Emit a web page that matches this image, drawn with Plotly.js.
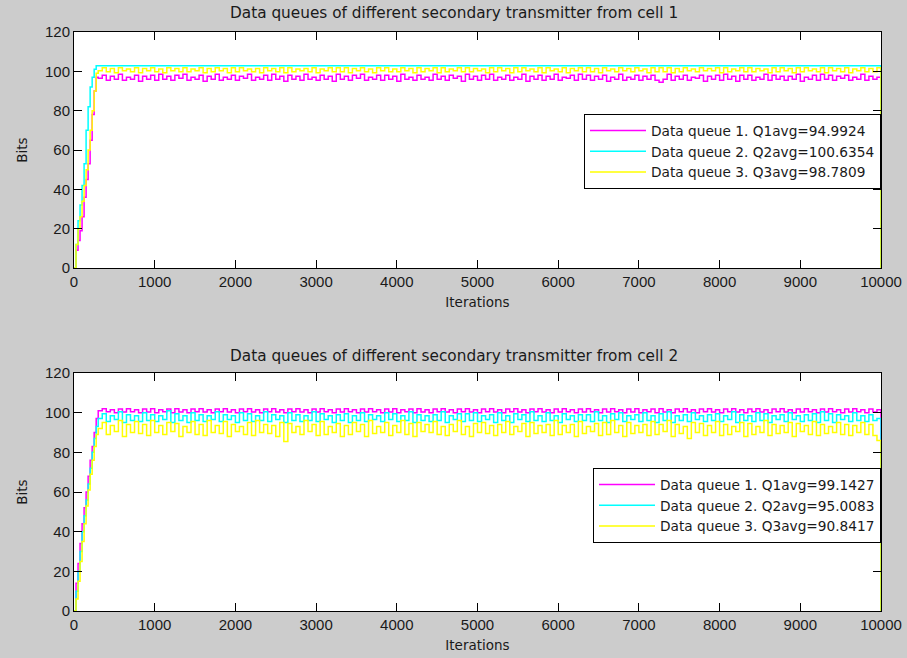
<!DOCTYPE html>
<html><head><meta charset="utf-8">
<script src="https://cdn.plot.ly/plotly-3.0.1.min.js"></script>
<style>html,body{margin:0;padding:0;background:#cccccc}#chart{width:907px;height:658px}</style>
</head><body><div id="chart"></div>
<script>
// ---- DATA ----
const rampIterations = [0,25,50,75,100,125,150,175,200,225,250,275,300];
const steadyFirst = 350, steadyStep = 50, steadyCount = 193, lastIteration = 10000;

const seriesNames1 = ["Data queue 1. Q1avg=94.9924","Data queue 2. Q2avg=100.6354","Data queue 3. Q3avg=98.7809"];
const seriesNames2 = ["Data queue 1. Q1avg=99.1427","Data queue 2. Q2avg=95.0083","Data queue 3. Q3avg=90.8417"];
const titles = ["Data queues of different secondary transmitter from cell 1","Data queues of different secondary transmitter from cell 2"];

// Cell 1
const cell1Q1Ramp = [0,9,14,19,26,36,45,53,65,78,90,97,96.5];
const cell1Q1 = [
98,95.5,97.5,96,98.5,95.5,97,96,98,95,
97.5,96,98,95.5,98.5,96,97.5,95.5,98,96.5,
98.5,95.5,97,96,98,95,97.5,96,98.5,95.5,
97,96,98,95.5,97.5,96.5,98.5,95.5,97,96,
98,95.5,98.5,96,97.5,95,98,96,97.5,95.5,
98.5,96,97,95.5,98,96,97.5,95,98.5,96,
97.5,95.5,98,96.5,98.5,95.5,97,96,98,95.5,
98,96,97.5,95,98.5,96,97,95.5,98,96,
97,95.5,98.5,96,97.5,95.5,98,96.5,97.5,95,
98.5,96,97.5,95.5,98,96,98.5,95.5,97,96,
98,95.5,97,96,98.5,95,97.5,96,98,95.5,
97.5,96,98.5,95.5,97,96.5,98,95.5,98.5,96,
98,95.5,97.5,96,98,95,97,96,98.5,95.5,
97,96,98,95.5,97.5,96,98,95.5,94.5,96,
98.5,95.5,97.5,96,98,95.5,97,96.5,98,95,
97.5,96,98,95.5,98.5,96,97.5,95,98,96,
98,95.5,97,96,98.5,95.5,98,96,97.5,95.5,
97.5,96,98.5,95,97,96,98,95.5,98.5,96,
98,95.5,97.5,96.5,98,95.5,97,96,98.5,95.5,
97.5,96,97];
const cell1Q2Ramp = [0,12,24,32,42,53,70,82,92,97,101,102.8,102.8];
const cell1Q2 = [
102.8,102.8,102.8,102.8,102.8,102.8,102.8,102.8,102.8,102.8,
102.8,102.8,102.8,102.8,102.8,102.8,102.8,102.8,102.8,102.8,
102.8,102.8,102.8,102.8,102.8,102.8,102.8,102.8,102.8,102.8,
102.8,102.8,102.8,102.8,102.8,102.8,102.8,102.8,102.8,102.8,
102.8,102.8,102.8,102.8,102.8,102.8,102.8,102.8,102.8,102.8,
102.8,102.8,102.8,102.8,102.8,102.8,102.8,102.8,102.8,102.8,
102.8,102.8,102.8,102.8,102.8,102.8,102.8,102.8,102.8,102.8,
102.8,102.8,102.8,102.8,102.8,102.8,102.8,102.8,102.8,102.8,
102.8,102.8,102.8,102.8,102.8,102.8,102.8,102.8,102.8,102.8,
102.8,102.8,102.8,102.8,102.8,102.8,102.8,102.8,102.8,102.8,
102.8,102.8,102.8,102.8,102.8,102.8,102.8,102.8,102.8,102.8,
102.8,102.8,102.8,102.8,102.8,102.8,102.8,102.8,102.8,102.8,
102.8,102.8,102.8,102.8,102.8,102.8,102.8,102.8,102.8,102.8,
102.8,102.8,102.8,102.8,102.8,102.8,102.8,102.8,102.8,102.8,
102.8,102.8,102.8,102.8,102.8,102.8,102.8,102.8,102.8,102.8,
102.8,102.8,102.8,102.8,102.8,102.8,102.8,102.8,102.8,102.8,
102.8,102.8,102.8,102.8,102.8,102.8,102.8,102.8,102.8,102.8,
102.8,102.8,102.8,102.8,102.8,102.8,102.8,102.8,102.8,102.8,
102.8,102.8,102.8,102.8,102.8,102.8,102.8,102.8,102.8,102.8,
102.8,102.8,102.8];
const cell1Q3Ramp = [0,12,20,26,34,42,50,60,70,80,90,99,100.3];
const cell1Q3 = [
101.8,99.8,101.5,99.3,101.8,100.3,101.2,99.8,101.8,99.3,
101.5,100.3,101.8,99.8,101.2,99.3,101.8,100.3,101.5,99.8,
101.8,99.8,101.2,100.3,101.8,99.3,101.5,99.8,101.8,100.3,
101.5,99.3,101.8,99.8,101.8,100.3,101.2,99.8,101.5,99.3,
101.8,100.3,101.5,99.8,101.8,99.3,101.8,99.8,101.2,100.3,
101.5,99.8,101.8,99.3,101.2,100.3,101.8,99.8,101.8,99.8,
101.8,99.3,101.5,100.3,101.8,99.8,101.2,99.3,101.8,100.3,
101.8,99.8,101.2,99.8,101.8,100.3,101.5,99.3,101.8,99.8,
101.5,100.3,101.8,99.3,101.8,99.8,101.2,100.3,101.8,99.8,
101.8,99.8,101.5,100.3,101.2,99.3,101.8,99.8,101.8,100.3,
101.5,99.3,101.8,99.8,101.8,100.3,101.2,99.8,101.8,99.3,
101.8,100.3,101.2,99.8,101.8,99.3,101.5,100.3,101.8,99.8,
101.8,99.8,101.5,99.3,101.8,100.3,101.2,99.8,101.8,100.3,
101.5,99.8,101.8,100.3,101.2,99.3,101.8,99.8,101.8,99.8,
101.8,99.3,101.5,99.8,101.8,100.3,101.2,99.8,101.8,100.3,
101.5,100.3,101.8,99.3,101.8,99.8,101.2,100.3,101.8,99.8,
101.8,99.8,101.5,100.3,101.2,99.3,101.8,99.8,101.8,100.3,
101.5,99.3,101.8,99.8,101.8,100.3,101.2,99.8,101.8,99.3,
101.8,100.3,101.5,99.8,101.8,99.3,101.2,100.3,101.8,99.8,
101.5,99.8,101.8];

// Cell 2
const cell2Q1Ramp = [0,14,24,34,44,52,60,68,76,83,90,97,101];
const cell2Q1 = [
102,100.5,101.5,100,101.8,100.3,102,100.5,101.5,100,
101.8,100.3,102,100,101.5,100.5,101.8,100,102,100.3,
101.5,100,101.8,100.5,102,100.3,101.5,100,101.8,100.5,
102,100.3,101.5,100,101.8,100.5,102,100.3,101.5,100,
101.8,100.5,102,100.3,101.5,100,101.8,100.5,102,100.3,
101.5,100,101.8,100.3,102,100.5,101.5,100,101.8,100.3,
102,100.5,101.5,100,101.8,100.3,102,100.5,101.5,100,
101.8,100.3,102,100,101.5,100.5,101.8,100,102,100.3,
101.5,100,101.8,100.5,102,100.3,101.5,100,101.8,100.5,
102,100.3,101.5,100,101.8,100.5,102,100.3,101.5,100,
101.8,100.5,102,100.3,101.5,100,101.8,100.5,102,100.3,
101.5,100,101.8,100.3,102,100.5,101.5,100,101.8,100.3,
102,100.5,101.5,100,101.8,100.3,102,100.5,101.5,100,
101.8,100.3,102,100,101.5,100.5,101.8,100,102,100.3,
101.5,100,101.8,100.5,102,100.3,101.5,100,101.8,100.5,
102,100.3,101.5,100,101.8,100.5,102,100.3,101.5,100,
101.8,100.5,102,100.3,101.5,100,101.8,100.5,102,100.3,
101.5,100,101.8,100.3,102,100.5,101.5,100,101.8,100.3,
102,100.5,101.5,100,101.8,100.3,102,100.5,101.5,100,
101.8,100.3,101.5];
const cell2Q2Ramp = [0,10,20,30,40,48,56,64,72,80,87,93,97];
const cell2Q2 = [
99.5,95.5,98.5,96.5,100.5,95,99,96,98.5,95.5,
100,96,99,95.5,98.5,96.5,101,95,99.5,96,
98.5,95,100,96,99,95.5,98.5,96.5,100.5,95.5,
99,96.5,98.5,95,100,96,99.5,95.5,98.5,96,
100.5,95.5,99,96.5,98.5,95,100,96,99,95.5,
98.5,96,100.5,95.5,99.5,96.5,98.5,95,99,96,
99.5,95,98.5,96,100,95.5,99,96.5,98.5,95.5,
100,96.5,99.5,95.5,98.5,96,100.5,95,99,96,
98.5,95.5,99,96,100.5,95,98.5,96.5,99.5,95.5,
99.5,96,100,95.5,98.5,96.5,99,95,100,96,
98.5,95,99.5,96.5,99,95.5,100.5,96,98.5,95.5,
100,96,98.5,95,99.5,96.5,98.5,95.5,99,96,
99,95.5,100.5,96,98.5,95,99.5,96.5,100,95.5,
98.5,96.5,99,95.5,100,96,98.5,95,99.5,96,
100.5,95,98.5,96,99,95.5,100,96.5,98.5,95.5,
99,96,99.5,95.5,98.5,96.5,100.5,95,99,96,
98.5,95.5,100,96,99.5,95,98.5,96.5,99,95.5,
100,96.5,98.5,95.5,99,96,99.5,95,100.5,96,
99.5,95,99,96.5,98.5,95.5,100,96,98.5,95.5,
99,96,97];
const cell2Q3Ramp = [0,6,15,25,35,44,53,61,69,76,83,89,92];
const cell2Q3 = [
95,89,93.5,90.5,96,88,94,90,95.5,89.5,
94,88.5,96,90,93.5,89,95,90.5,94.5,88,
93,90,95.5,89,94,88.5,96,90,93.5,89.5,
95.5,88,94,90.5,93,89,95,88.5,96,90,
94,89.5,93.5,88,95,85.5,94.5,90,93,89,
96,90.5,94,88.5,95.5,89,93,90,94.5,88,
93.5,89,95,90.5,94,88,96,89.5,93,90,
95,88.5,93.5,90,96,89,94.5,88,95,90.5,
94,90,95.5,89,93,88.5,94,90.5,96,89,
93,88,94.5,90,95,89.5,93.5,88.5,94,90,
95.5,89,93,90.5,94.5,88,95,89.5,93.5,90,
94,88.5,96,89,93.5,90,94,88,95.5,89.5,
93,90.5,94.5,88.5,95,89,96,90,93.5,88,
95,89.5,93.5,90,94,88.5,95.5,89,94,90.5,
96,88,94,89.5,93,87,95,90,94.5,88.5,
93.5,90,95.5,88.5,94,89,93,90.5,95,88,
94.5,89,93,90,96,88.5,94,89.5,93.5,90,
95,88,94.5,90.5,93.5,89,95.5,88.5,94,89.5,
93,90,95,89,94,88.5,93.5,90,95,89,
94,88.5,86];
const finalValue = 0;

// ---- BUILD ----
const steadyIterations = [];
for (let i = 0; i < steadyCount; i++) steadyIterations.push(steadyFirst + i * steadyStep);
const iterations = rampIterations.concat(steadyIterations, [lastIteration]);
const full = (ramp, steady) => ramp.concat(steady, [finalValue]);

const colors = ["#ff00ff", "#00ffff", "#ffff00"];
const FONT = '"Liberation Sans", Arial, sans-serif';
const FONT_WIDE = '"DejaVu Sans", Verdana, sans-serif';
const TXT = '#1a1a1a';

function mk(y, name, color, xa, ya, legend, grp) {
  return {x: iterations, y: y, name: name, type: 'scatter', mode: 'lines',
    line: {color: color, width: 1.5, shape: 'hv'}, xaxis: xa, yaxis: ya, legend: legend,
    legendgroup: grp, hoverinfo: 'skip'};
}
const data = [
  mk(full(cell1Q1Ramp, cell1Q1), seriesNames1[0], colors[0], 'x', 'y', 'legend', 'a1'),
  mk(full(cell1Q2Ramp, cell1Q2), seriesNames1[1], colors[1], 'x', 'y', 'legend', 'a2'),
  mk(full(cell1Q3Ramp, cell1Q3), seriesNames1[2], colors[2], 'x', 'y', 'legend', 'a3'),
  mk(full(cell2Q1Ramp, cell2Q1), seriesNames2[0], colors[0], 'x2', 'y2', 'legend2', 'b1'),
  mk(full(cell2Q2Ramp, cell2Q2), seriesNames2[1], colors[1], 'x2', 'y2', 'legend2', 'b2'),
  mk(full(cell2Q3Ramp, cell2Q3), seriesNames2[2], colors[2], 'x2', 'y2', 'legend2', 'b3')
];

const W = 907, H = 658;
const xdom = [74 / W, 881 / W];
const y1dom = [(H - 268) / H, (H - 32) / H];
const y2dom = [(H - 611) / H, (H - 373) / H];
const tickFont = {family: FONT, size: 15, color: TXT};
const axTitleFont = {family: FONT_WIDE, size: 13.5, color: TXT};
function xax(anchor) {
  return {domain: xdom, anchor: anchor, range: [0, 10000], dtick: 1000, tick0: 0, tickformat: 'd',
    showgrid: false, zeroline: false, showline: true, mirror: 'ticks', linecolor: '#000', linewidth: 1,
    ticks: 'inside', ticklen: 8, tickcolor: '#000', tickfont: tickFont, automargin: false,
    title: {text: 'Iterations', font: axTitleFont, standoff: 8}};
}
function yax(dom, anchor) {
  return {domain: dom, anchor: anchor, range: [0, 120], dtick: 20, tick0: 0, tickformat: 'd',
    showgrid: false, zeroline: false, showline: true, mirror: 'ticks', linecolor: '#000', linewidth: 1,
    ticks: 'inside', ticklen: 8, tickcolor: '#000', tickfont: tickFont, automargin: false,
    title: {text: 'Bits', font: axTitleFont, standoff: 14}};
}
const legendBase = {bgcolor: '#ffffff', bordercolor: '#000', borderwidth: 1,
  font: {family: FONT_WIDE, size: 13.7, color: TXT}, xanchor: 'right', yanchor: 'top',
  xref: 'paper', yref: 'paper', itemwidth: 56, traceorder: 'normal', tracegroupgap: 2};

const titleFont = {family: FONT_WIDE, size: 15.3, color: TXT};
const layout = {
  width: W, height: H, margin: {l: 0, r: 0, t: 0, b: 0},
  paper_bgcolor: '#cccccc', plot_bgcolor: '#ffffff', showlegend: true,
  xaxis: xax('y'), yaxis: yax(y1dom, 'x'),
  xaxis2: xax('y2'), yaxis2: yax(y2dom, 'x2'),
  legend: Object.assign({}, legendBase, {x: 881 / W, y: (H - 114) / H}),
  legend2: Object.assign({}, legendBase, {x: 881 / W, y: (H - 468) / H}),
  annotations: [
    {text: titles[0], xref: 'paper', yref: 'paper',
     x: 454 / W, y: (H - 13) / H, xanchor: 'center', yanchor: 'middle', showarrow: false, font: titleFont},
    {text: titles[1], xref: 'paper', yref: 'paper',
     x: 454 / W, y: (H - 356) / H, xanchor: 'center', yanchor: 'middle', showarrow: false, font: titleFont}
  ]
};
Plotly.newPlot('chart', data, layout, {staticPlot: true, displayModeBar: false});
</script></body></html>
